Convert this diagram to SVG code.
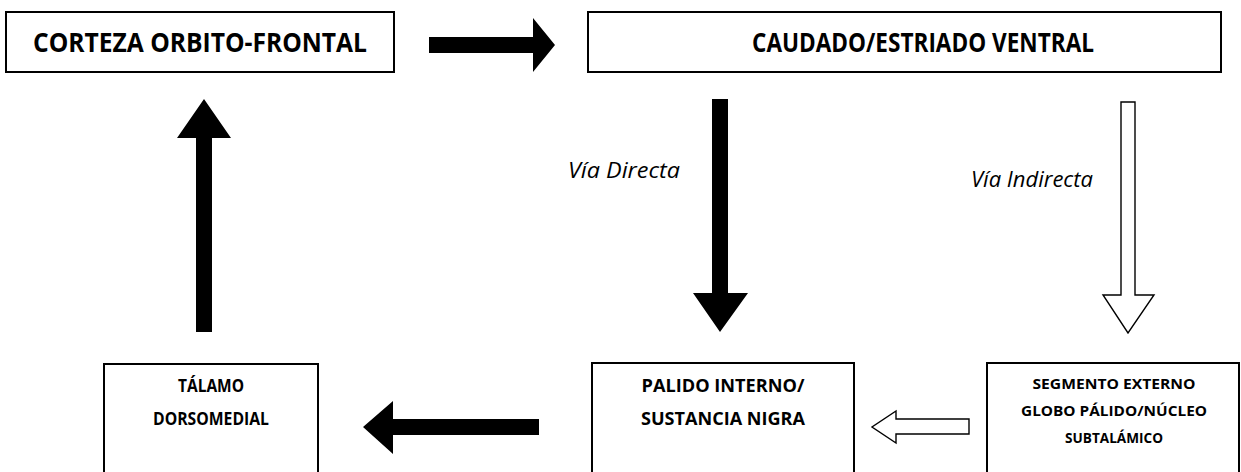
<svg xmlns="http://www.w3.org/2000/svg" width="1241" height="472" viewBox="0 0 1241 472">
<style>
.box{fill:#fff;stroke:#000;stroke-width:2}
.t{font-family:"Open Sans","Liberation Sans",sans-serif;font-weight:bold;fill:#000;text-anchor:middle}
.big{font-size:27px}
.mid{font-size:17px}
.sm{font-size:14px}
.lbl{font-family:"Open Sans","Liberation Sans",sans-serif;font-style:italic;font-size:21px;fill:#000}
.solid{fill:#000;stroke:none}
.hollow{fill:#fff;stroke:#000;stroke-width:1.4}
</style>
<rect width="1241" height="472" fill="#fff"/>
<g id="corteza">
<rect class="box" x="6" y="12" width="388" height="60"/>
<text class="t big" x="200" y="52" textLength="334" lengthAdjust="spacingAndGlyphs">CORTEZA ORBITO-FRONTAL</text>
</g>
<g id="caudado">
<rect class="box" x="588" y="12" width="633" height="60"/>
<text class="t big" x="923" y="52" textLength="342" lengthAdjust="spacingAndGlyphs">CAUDADO/ESTRIADO VENTRAL</text>
</g>
<g id="talamo">
<rect class="box" x="104" y="364" width="214" height="130"/>
<text class="t mid" x="211" y="392" textLength="66" lengthAdjust="spacingAndGlyphs">TÁLAMO</text>
<text class="t mid" x="211" y="425" textLength="116" lengthAdjust="spacingAndGlyphs">DORSOMEDIAL</text>
</g>
<g id="palido">
<rect class="box" x="592" y="363" width="262" height="130"/>
<text class="t mid" x="723" y="392" textLength="163" lengthAdjust="spacingAndGlyphs">PALIDO INTERNO/</text>
<text class="t mid" x="723" y="425" textLength="164" lengthAdjust="spacingAndGlyphs">SUSTANCIA NIGRA</text>
</g>
<g id="segmento">
<rect class="box" x="987" y="363" width="252" height="130"/>
<text class="t sm" x="1114" y="389" textLength="163" lengthAdjust="spacingAndGlyphs">SEGMENTO EXTERNO</text>
<text class="t sm" x="1114" y="416" textLength="186" lengthAdjust="spacingAndGlyphs">GLOBO PÁLIDO/NÚCLEO</text>
<text class="t sm" x="1114" y="443" textLength="98" lengthAdjust="spacingAndGlyphs">SUBTALÁMICO</text>
</g>
<g id="connectors">
<polygon class="solid" points="429,37 533,37 533,18 555,45 533,72 533,53 429,53"/>
<polygon class="solid" points="712,99 728,99 728,293 748,293 720,332 693,293 712,293"/>
<polygon class="hollow" points="1121,102 1135,102 1135,295 1154,295 1128,333 1103,295 1121,295"/>
<polygon class="solid" points="196,332 212,332 212,138 231,138 204,99 177,138 196,138"/>
<polygon class="solid" points="539,419 539,435 393,435 393,454 363,427 393,401 393,419"/>
<polygon class="hollow" points="969,419 969,434 896,434 896,443 872,427 896,411 896,419"/>
<text class="lbl" x="568" y="178" textLength="112" lengthAdjust="spacingAndGlyphs">Vía Directa</text>
<text class="lbl" x="971" y="187" textLength="122" lengthAdjust="spacingAndGlyphs">Vía Indirecta</text>
</g>
</svg>
